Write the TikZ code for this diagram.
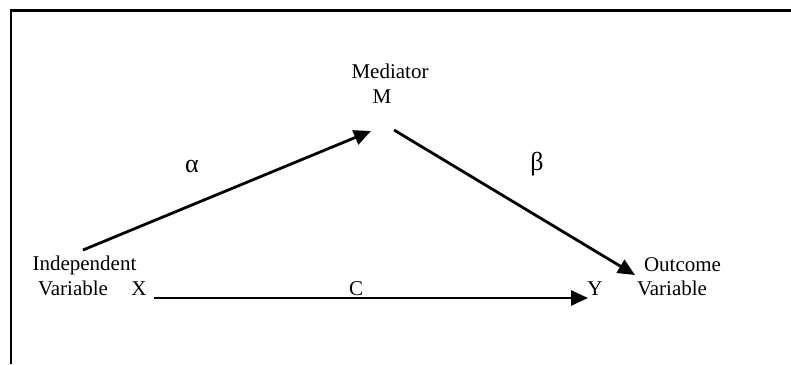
\documentclass[tikz,border=0pt]{standalone}
\usepackage{fontspec}
\setmainfont{Liberation Serif}
\usetikzlibrary{arrows.meta}

\begin{document}
\begin{tikzpicture}[x=0.5pt, y=-0.5pt,
  every node/.style={font=\fontsize{10.5}{12}\selectfont, inner sep=0pt, anchor=base},
  greek/.style={font=\fontsize{13}{15}\selectfont},
  path/.style={line width=1.4pt, -{Triangle[length=8.5pt,width=7.5pt]}}]
\useasboundingbox (0,0) rectangle (791,364);
% frame
\draw[line width=1.1pt] (11,364) -- (11,10.5) -- (791,10.5);
% variables
\node (med) at (390,78) {Mediator};
\node (m) at (382,103) {M};
\node (indep) at (84.5,270.5) {Independent};
\node (varx) at (73,295) {Variable};
\node (x) at (139,295) {X};
\node (y) at (595,295) {Y};
\node (outc) at (682.5,271) {Outcome};
\node (vary) at (672,295) {Variable};
% arrow ends
\coordinate (xa) at (83,250);
\coordinate (ma) at (371,131);
\coordinate (mb) at (394,130);
\coordinate (yb) at (635,275);
\coordinate (xc) at (154,298);
\coordinate (yc) at (588,298);
\draw[path] (xa) -- (ma);
\draw[path] (mb) -- (yb);
\draw[path] (xc) -- (yc);
% labels
\node[greek] (alpha) at (192,172) {α};
\node[greek] (beta) at (537,170) {β};
\node (c) at (356,295) {C};
\end{tikzpicture}
\end{document}
